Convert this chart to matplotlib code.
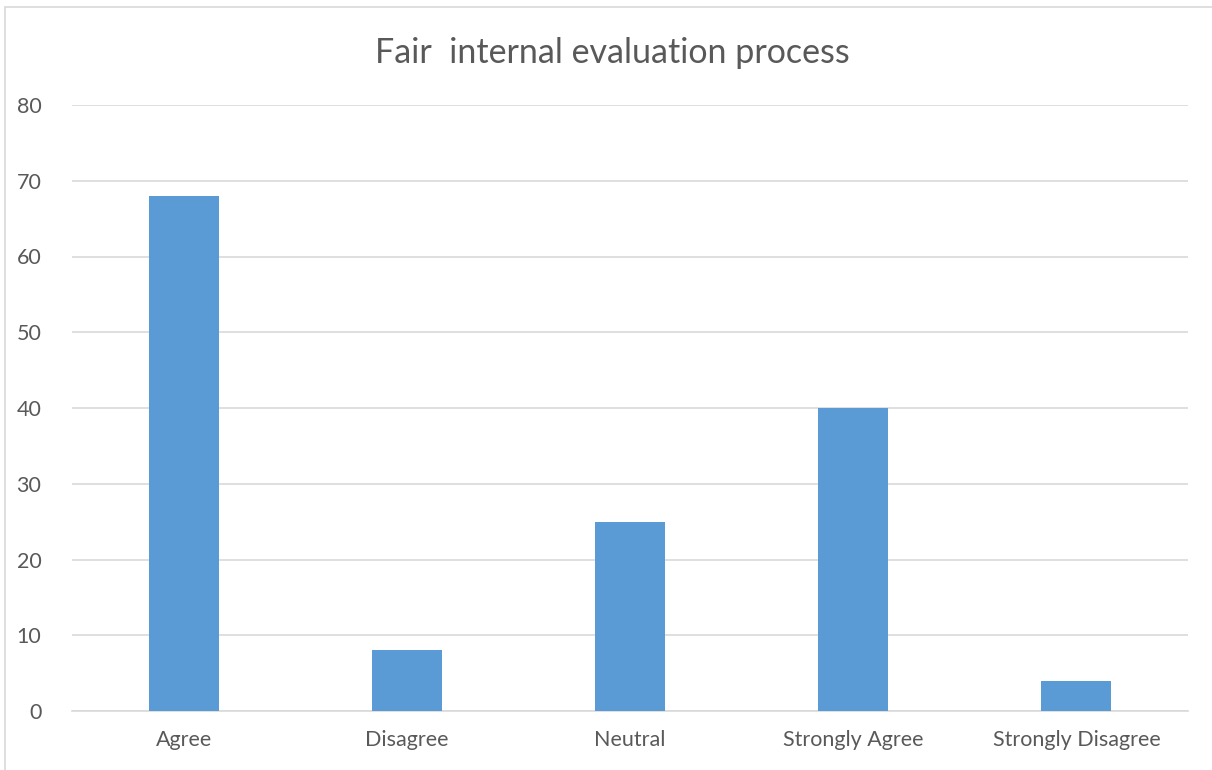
import matplotlib
matplotlib.use("Agg")
import matplotlib.pyplot as plt
from matplotlib.patches import Rectangle

categories = ["Agree", "Disagree", "Neutral", "Strongly Agree", "Strongly Disagree"]
counts = [68, 8, 25, 40, 4]
y_ticks = [0, 10, 20, 30, 40, 50, 60, 70, 80]
title = "Fair  internal evaluation process"

plt.rcParams['font.family'] = ['Lato', 'DejaVu Sans']

fig = plt.figure(figsize=(12.12, 7.7), dpi=100)
# outer chart border, only top and left show in the reference
fig.patches.append(Rectangle((5 / 1212, -0.05), 1.2, 1 - 7 / 770 + 0.05,
                             transform=fig.transFigure, fill=False,
                             edgecolor="#D9D9D9", linewidth=1.2))

ax = fig.add_axes([72 / 1212, 1 - 711 / 770, (1188 - 72) / 1212, (711 - 105) / 770])
x = range(len(categories))
ax.bar(x, counts, width=0.314, color="#5B9BD5", zorder=3)

ax.set_xlim(-0.5, len(categories) - 0.5)
ax.set_ylim(0, 80)
ax.set_yticks(y_ticks)
ax.set_xticks(list(x))
ax.set_xticklabels(categories)
ax.grid(axis="y", color="#D9D9D9", linewidth=1.2, zorder=0)
for side in ["top", "right", "left"]:
    ax.spines[side].set_visible(False)
ax.spines["bottom"].set_color("#D9D9D9")
ax.spines["bottom"].set_linewidth(1.2)
ax.tick_params(axis="both", length=0, labelsize=15.5, colors="#595959")
ax.tick_params(axis="y", pad=22)
ax.tick_params(axis="x", pad=14)

fig.text(612 / 1212, 1 - 53 / 770, title, ha="center", va="center",
         fontsize=24.5, color="#595959")

fig.savefig("out.png", dpi=100)
